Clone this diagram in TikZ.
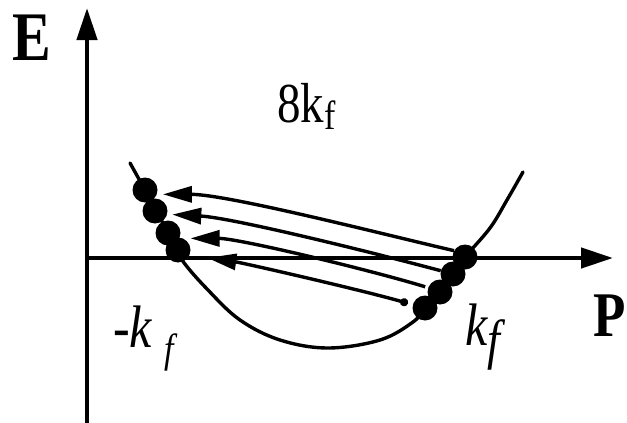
\documentclass[tikz,border=0pt]{standalone}
\usepackage{fontspec}
\setmainfont{Liberation Serif}
\usetikzlibrary{arrows.meta}
\newcommand{\tall}[1]{\scalebox{1}[1.2]{#1}}

\begin{document}
\begin{tikzpicture}[x=1pt,y=1pt,
    axis/.style={line width=4.5pt,-{Triangle[length=32pt,width=20pt]}},
    band/.style={line width=3.4pt,line cap=round},
    ball/.style={circle,fill,inner sep=0pt,minimum size=25pt},
    hop/.style={line width=3.4pt,looseness=0.6,
                -{Triangle[length=29pt,width=16pt]}},
    axlbl/.style={inner sep=0pt,font=\fontsize{58}{58}\selectfont\bfseries},
    klbl/.style={inner sep=0pt,anchor=base west,
                 font=\fontsize{50}{50}\selectfont\itshape}
  ]
  \useasboundingbox (0,0) rectangle (627,-423);
  % axes
  \coordinate (orig) at (87,-258);
  \coordinate (ybot) at (87,-423);
  \coordinate (ytop) at (87,-8);
  \coordinate (xtip) at (613,-258);
  \draw[axis] (ybot) -- (ytop);
  \draw[axis] (orig) -- (xtip);

  % the band E(P)
  \draw[band] plot[smooth,tension=0.6] coordinates {
    (130,-163) (145,-190) (157,-212) (168,-233) (182,-260) (208,-290)
    (240,-320) (280,-340) (328,-348) (380,-340) (413,-322) (425,-308)
    (440,-292) (453,-273) (465,-257) (490,-228) (507,-200) (523,-172)};

  % occupied states near -k_f and k_f
  \node[ball] (l1) at (145,-190) {};
  \node[ball] (l2) at (155,-211) {};
  \node[ball] (l3) at (168,-233) {};
  \node[ball] (l4) at (178,-250) {};
  \node[ball] (r1) at (465,-257) {};
  \node[ball] (r2) at (453,-274) {};
  \node[ball] (r3) at (440,-292) {};
  \node[ball] (r4) at (425,-308) {};

  % scattering from k_f to -k_f
  \draw[hop,shorten >=6pt] (r1.150) to[out=167,in=0] (l1.-20);
  \draw[hop,shorten >=5pt] (r2.165) to[out=165,in=-3] (l2.-15);
  \draw[hop,shorten <=3pt,shorten >=11pt] (r3.160) to[out=163,in=0] (l3.-25);
  \draw[hop,{Circle[length=8pt]}-{Triangle[length=29pt,width=16pt]},
        shorten <=5pt,shorten >=18pt] (r4.165) to[out=164,in=-8] (l4.-25);

  % labels
  \node[axlbl] (elbl) at (32,-38) {\tall{E}};
  \node[axlbl,font=\fontsize{53}{53}\selectfont\bfseries,anchor=west]
    (plbl) at (593,-316) {\tall{P}};
  \node[inner sep=0pt,anchor=base west,font=\fontsize{47}{47}\selectfont]
    (nlbl) at (277,-122) {\tall{8k\raisebox{-6pt}{\fontsize{34}{34}\selectfont f}}};
  \node[klbl] (kleft) at (113,-347)
    {\tall{-k}\hspace{12pt}\raisebox{-15pt}{\tall{\fontsize{34}{34}\selectfont f}}};
  \node[klbl] (kright) at (465,-345)
    {\tall{k}\raisebox{-13pt}{\tall{\fontsize{46}{46}\selectfont f}}};
\end{tikzpicture}
\end{document}
